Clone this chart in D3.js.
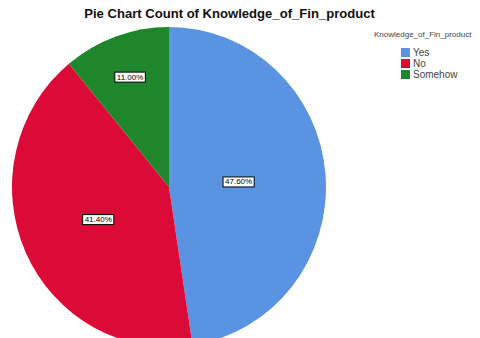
<!DOCTYPE html>
<html>
<head>
<meta charset="utf-8">
<script src="https://cdn.jsdelivr.net/npm/d3@7"></script>
<style>
  html, body { margin: 0; padding: 0; background: #fff; }
  svg { display: block; }
</style>
</head>
<body>
<svg id="chart" width="480" height="338"></svg>
<script>
// Share of respondents by knowledge of financial products
const categories = ["Yes", "No", "Somehow"];
const percents = [47.6, 41.4, 11.0];
const colors = ["#5a93e2", "#dc0a36", "#1f862c"];
const titleText = "Pie Chart Count of Knowledge_of_Fin_product";
const legendTitle = "Knowledge_of_Fin_product";

const svg = d3.select("#chart");

// Pie geometry
const cx = 169, cy = 187, r = 160, xStretch = 157 / 160;

const pie = d3.pie().sort(null).value(d => d)
  .startAngle(0).endAngle(2 * Math.PI);
const arcs = pie(percents);
const arc = d3.arc().innerRadius(0).outerRadius(r);

const g = svg.append("g").attr("transform", `translate(${cx},${cy})`);
g.append("g").attr("transform", `scale(${xStretch},1)`)
  .selectAll("path").data(arcs).join("path")
  .attr("d", arc)
  .attr("fill", (d, i) => colors[i]);

// Labels sit near each slice's area centroid
const labels = g.selectAll("g.lbl").data(arcs).join("g").attr("class", "lbl")
  .attr("transform", d => {
    const a = d.endAngle - d.startAngle;
    const mid = (d.startAngle + d.endAngle) / 2;
    const dist = 4 * r * Math.sin(a / 2) / (3 * a) * (a < 1 ? 1.12 : 1);
    return `translate(${Math.sin(mid) * dist * xStretch},${-Math.cos(mid) * dist})`;
  });
labels.each(function (d, i) {
  const sel = d3.select(this);
  const t = sel.append("text")
    .attr("text-anchor", "middle")
    .attr("dy", "0.35em")
    .attr("font-family", "Liberation Sans, Arial, sans-serif")
    .attr("font-size", 8)
    .attr("fill", "#000")
    .text(percents[i].toFixed(2) + "%");
  const bb = t.node().getBBox();
  sel.insert("rect", "text")
    .attr("x", bb.x - 2).attr("y", bb.y - 0.5)
    .attr("width", bb.width + 4).attr("height", bb.height + 1)
    .attr("fill", "#fff").attr("stroke", "#000").attr("stroke-width", 1);
});

// Title
const title = svg.append("text")
  .attr("x", 229.5).attr("y", 18)
  .attr("text-anchor", "middle")
  .attr("font-family", "Liberation Sans, Arial, sans-serif")
  .attr("font-weight", "bold")
  .attr("font-size", 13)
  .attr("fill", "#111")
  .text(titleText);
const tw = title.node().getComputedTextLength();
title.attr("font-size", 13 * 291 / tw);

// Legend
const legend = svg.append("g").attr("transform", "translate(374,0)");
legend.append("text")
  .attr("x", 0).attr("y", 37)
  .attr("font-family", "Liberation Sans, Arial, sans-serif")
  .attr("font-size", 8)
  .attr("fill", "#444")
  .text(legendTitle);
const items = legend.selectAll("g.item").data(categories).join("g").attr("class", "item")
  .attr("transform", (d, i) => `translate(27,${48 + i * 11})`);
items.append("rect")
  .attr("width", 9).attr("height", 9)
  .attr("fill", (d, i) => colors[i]);
items.append("text")
  .attr("x", 12).attr("y", 8)
  .attr("font-family", "Liberation Sans, Arial, sans-serif")
  .attr("font-size", 10)
  .attr("fill", "#444")
  .text(d => d);
</script>
</body>
</html>
